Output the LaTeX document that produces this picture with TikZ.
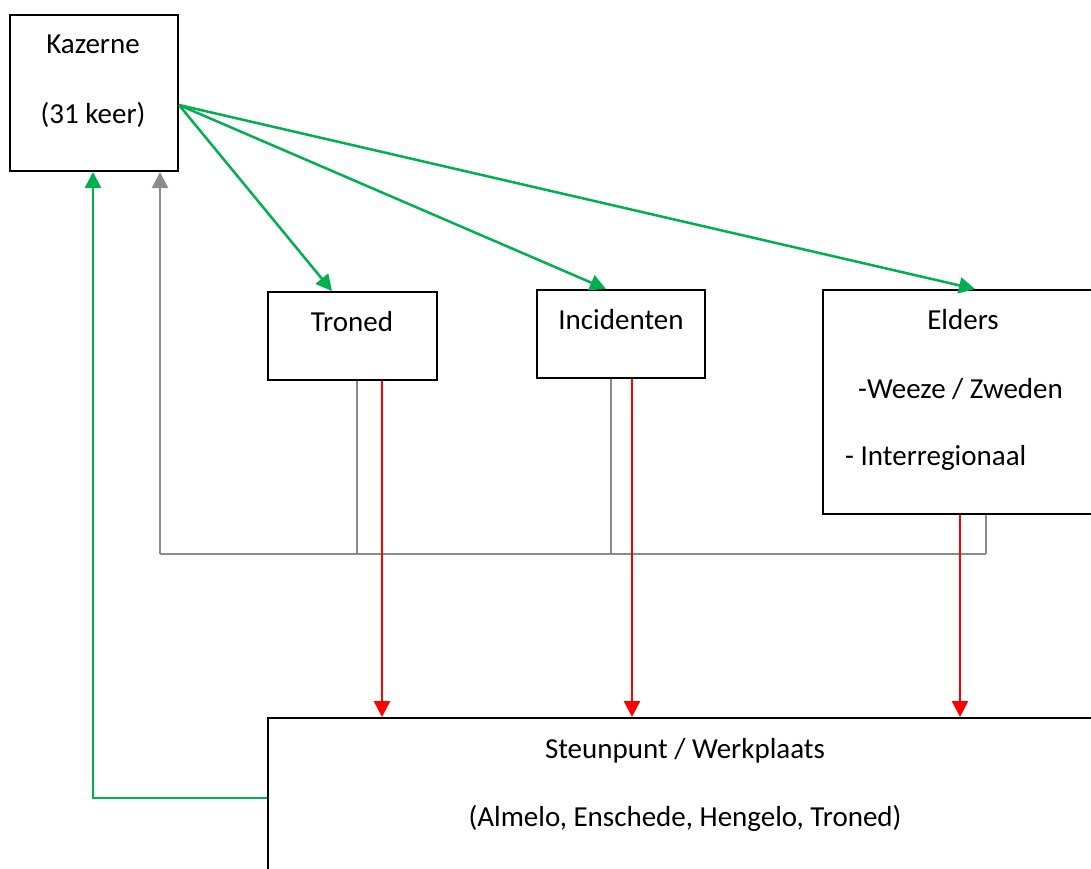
\documentclass[tikz,border=0pt]{standalone}
\usepackage{fontspec}
\setmainfont{Carlito}
\usetikzlibrary{arrows.meta}
\definecolor{grn}{HTML}{00B050}
\definecolor{gry}{HTML}{8C8C8C}
\definecolor{rd}{HTML}{FF0000}
\begin{document}
\begin{tikzpicture}[x=1pt,y=-1pt,
  box/.style={draw=black, line width=2pt, inner sep=0pt, rectangle},
  lbl/.style={inner sep=0pt, font=\fontsize{29}{35}\selectfont},
  tip/.style={-{Triangle[length=16pt,width=16pt]}},
  garrow/.style={draw=grn, line width=2.5pt, tip},
  rarrow/.style={draw=rd, line width=2.5pt, tip},
  gyline/.style={draw=gry, line width=2pt},
  gyarrow/.style={gyline, tip}]
\useasboundingbox (0,0) rectangle (1091,869);
\clip (0,0) rectangle (1091,869);
\fill[white] (0,0) rectangle (1091,869);

% boxes
\node[box, minimum width=168pt, minimum height=156pt] (kaz) at (94,93) {};
\node[box, minimum width=169pt, minimum height=88pt] (tro) at (352.5,336) {};
\node[box, minimum width=168pt, minimum height=88pt] (inc) at (621,334) {};
\node[box, minimum width=280pt, minimum height=224pt] (eld) at (963,402) {};
\node[box, minimum width=834pt, minimum height=220pt] (stp) at (685,828) {};

% labels
\node[lbl, anchor=base] (kazt1) at (93,54) {Kazerne};
\node[lbl, anchor=base] (kazt2) at (93,124) {(31 keer)};
\node[lbl, anchor=base] (trot) at (352,331) {Troned};
\node[lbl, anchor=base] (inct) at (621,329) {Incidenten};
\node[lbl, anchor=base] (eldt1) at (963,329) {Elders};
\node[lbl, anchor=base west] (eldt2) at (858,398) {-Weeze / Zweden};
\node[lbl, anchor=base west] (eldt3) at (845,465) {- Interregionaal};
\node[lbl, anchor=base] (stpt1) at (685,758) {Steunpunt / Werkplaats};
\node[lbl, anchor=base] (stpt2) at (685,826) {(Almelo, Enschede, Hengelo, Troned)};

% connection points
\coordinate (kzout) at ([yshift=-12pt]kaz.east);
\coordinate (kzg) at (kaz.south -| 93,0);
\coordinate (kzy) at (kaz.south -| 160,0);
\coordinate (trin) at (tro.north -| 332,0);
\coordinate (incin) at (inc.north -| 606,0);
\coordinate (eldin) at (eld.north -| 975,0);
\coordinate (stpl) at (stp.west |- 0,798);
\coordinate (gl) at (160,554);
\coordinate (gt) at (357,554);
\coordinate (gi) at (611,554);
\coordinate (ge) at (986,554);

% green arrows
\draw[garrow] (kzout) -- (trin);
\draw[garrow] (kzout) -- (incin);
\draw[garrow] (kzout) -- (eldin);
\draw[garrow] (stpl) -- (stpl -| kzg) -- (kzg);

% gray return lines
\draw[gyline] (tro.south -| gt) -- (gt);
\draw[gyline] (inc.south -| gi) -- (gi);
\draw[gyline] (eld.south -| ge) -- (ge);
\draw[gyline] (ge) -- (gl);
\draw[gyarrow] (gl) -- (kzy);

% red arrows
\draw[rarrow] (tro.south -| 382,0) -- (stp.north -| 382,0);
\draw[rarrow] (inc.south -| 632,0) -- (stp.north -| 632,0);
\draw[rarrow] (eld.south -| 960,0) -- (stp.north -| 960,0);
\end{tikzpicture}
\end{document}
